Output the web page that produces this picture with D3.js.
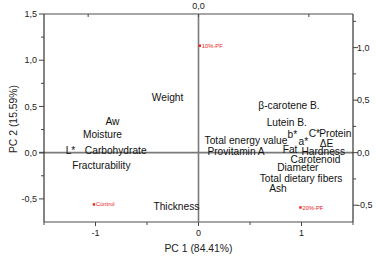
<!DOCTYPE html>
<html>
<head>
<meta charset="utf-8">
<script src="https://cdn.jsdelivr.net/npm/d3@7"></script>
<style>
body{margin:0;background:#fff;}
svg{display:block;font-family:"Liberation Sans",Arial,sans-serif;}
</style>
</head>
<body>
<div id="chart"></div>
<script>
// loadings (top / right axes)
var varNames = ["Weight","Aw","Moisture","L*","Carbohydrate","Fracturability","β-carotene B.","Lutein B.","Total energy value","b*","a*","C*","Protein","ΔE","Provitamin A","Fat","Hardness","Carotenoid","Diameter","Total dietary fibers","Ash","Thickness"];
var varPC1 = [-0.28,-0.78,-0.87,-1.16,-0.75,-0.88,0.82,0.80,0.43,0.85,0.95,1.05,1.24,1.16,0.34,0.83,1.13,1.06,0.90,0.93,0.72,-0.20];
var varPC2 = [0.53,0.30,0.17,0.02,0.02,-0.12,0.45,0.29,0.12,0.17,0.11,0.18,0.18,0.09,0.01,0.03,0.01,-0.06,-0.14,-0.25,-0.34,-0.51];
// scores (bottom / left axes)
var sampleNames = ["Control","10%-PF","20%-PF"];
var samplePC1 = [-1.015,0.013,0.99];
var samplePC2 = [-0.56,1.157,-0.593];

var leftTicks = [1.5,1.0,0.5,0.0,-0.5];
var rightTicks = [1.0,0.5,0.0,-0.5];
var bottomTicks = [-1,0,1];

var width = 376, height = 256;
var L = 44, R = 353, T = 14, B = 222;

var svg = d3.select("#chart").append("svg").attr("width",width).attr("height",height);

var x = d3.scaleLinear().domain([-1.5,1.5]).range([L,R]);
var y = d3.scaleLinear().domain([-0.75,1.5]).range([B,T]);
var xTop = d3.scaleLinear().domain([-1.4,1.4]).range([L,R]);
var yRight = d3.scaleLinear().domain([-0.66,1.32]).range([B,T]);

var comma = function(v){ return d3.format(".1f")(v).replace(".",",").replace("−","-"); };

// zero lines
svg.append("line").attr("x1",x(0)).attr("x2",x(0)).attr("y1",T).attr("y2",B)
  .attr("stroke","#7a7a7a").attr("stroke-width",1.6);
svg.append("line").attr("x1",L-5).attr("x2",R).attr("y1",y(0)).attr("y2",y(0))
  .attr("stroke","#7a7a7a").attr("stroke-width",1.6);

// frame: top/bottom grey, left/right dark
svg.append("line").attr("x1",L).attr("x2",R).attr("y1",T).attr("y2",T).attr("stroke","#888").attr("stroke-width",1.4);
svg.append("line").attr("x1",L).attr("x2",R).attr("y1",B).attr("y2",B).attr("stroke","#888").attr("stroke-width",1.4);
svg.append("line").attr("x1",L).attr("x2",L).attr("y1",T).attr("y2",B).attr("stroke","#333").attr("stroke-width",1.2);
svg.append("line").attr("x1",R).attr("x2",R).attr("y1",T).attr("y2",B).attr("stroke","#333").attr("stroke-width",1.2);

var tickCol = "#444";
// left axis
svg.selectAll(".lminor").data(d3.range(-0.5,1.51,0.25)).enter().append("line")
  .attr("x1",L).attr("x2",function(d){ return Math.abs(d*2-Math.round(d*2))<1e-6 ? L-5 : L-3; })
  .attr("y1",function(d){return y(d);}).attr("y2",function(d){return y(d);})
  .attr("stroke",tickCol);
svg.selectAll(".llab").data(leftTicks).enter().append("text")
  .attr("x",L-7).attr("y",function(d){return y(d);}).attr("dy","0.35em")
  .attr("text-anchor","end").attr("font-size",9).attr("fill","#222")
  .text(function(d){return comma(d);});

// right axis
svg.selectAll(".rminor").data(d3.range(-0.5,1.26,0.25)).enter().append("line")
  .attr("x1",R).attr("x2",function(d){ return Math.abs(d*2-Math.round(d*2))<1e-6 ? R+5 : R+3; })
  .attr("y1",function(d){return yRight(d);}).attr("y2",function(d){return yRight(d);})
  .attr("stroke",tickCol);
svg.selectAll(".rlab").data(rightTicks).enter().append("text")
  .attr("x",R+4).attr("y",function(d){return yRight(d);}).attr("dy","0.35em")
  .attr("font-size",9).attr("fill","#222")
  .text(function(d){return comma(d);});

// bottom axis
svg.selectAll(".bminor").data(d3.range(-1.5,1.51,0.5)).enter().append("line")
  .attr("x1",function(d){return x(d);}).attr("x2",function(d){return x(d);})
  .attr("y1",B).attr("y2",function(d){ return Number.isInteger(d) ? B+4 : B+3; })
  .attr("stroke",tickCol);
svg.selectAll(".blab").data(bottomTicks).enter().append("text")
  .attr("x",function(d){return x(d);}).attr("y",B+14)
  .attr("text-anchor","middle").attr("font-size",9).attr("fill","#222")
  .text(function(d){return d<0 ? "-"+Math.abs(d) : d;});

// top axis
svg.selectAll(".tt").data([-1,0,1]).enter().append("line")
  .attr("x1",function(d){return xTop(d);}).attr("x2",function(d){return xTop(d);})
  .attr("y1",T).attr("y2",T+3).attr("stroke",tickCol);
svg.append("text").attr("x",xTop(0)).attr("y",T-5).attr("text-anchor","middle")
  .attr("font-size",9).attr("fill","#222").text("0,0");

// axis titles
svg.append("text").attr("x",x(0)).attr("y",252).attr("text-anchor","middle")
  .attr("font-size",10.4).attr("fill","#222").text("PC 1 (84.41%)");
svg.append("text").attr("transform","translate(17,"+((T+B)/2+1)+") rotate(-90)")
  .attr("text-anchor","middle").attr("font-size",10.4).attr("fill","#222").text("PC 2 (15.59%)");

// variable labels
svg.selectAll(".vlab").data(varNames).enter().append("text")
  .attr("x",function(d,i){return xTop(varPC1[i]);})
  .attr("y",function(d,i){return yRight(varPC2[i]);})
  .attr("dy","0.35em").attr("text-anchor","middle")
  .attr("font-size",10.2).attr("fill","#111")
  .text(function(d){return d;});

// sample scores
svg.selectAll(".pt").data(sampleNames).enter().append("rect")
  .attr("x",function(d,i){return x(samplePC1[i])-1.2;})
  .attr("y",function(d,i){return y(samplePC2[i])-1.2;})
  .attr("width",2.4).attr("height",2.4).attr("fill","#e8201e");
svg.selectAll(".plab").data(sampleNames).enter().append("text")
  .attr("x",function(d,i){return x(samplePC1[i])+2;})
  .attr("y",function(d,i){return y(samplePC2[i]);})
  .attr("dy","0.35em").attr("font-size",5.8).attr("fill","#e8201e")
  .text(function(d){return d;});
</script>
</body>
</html>
